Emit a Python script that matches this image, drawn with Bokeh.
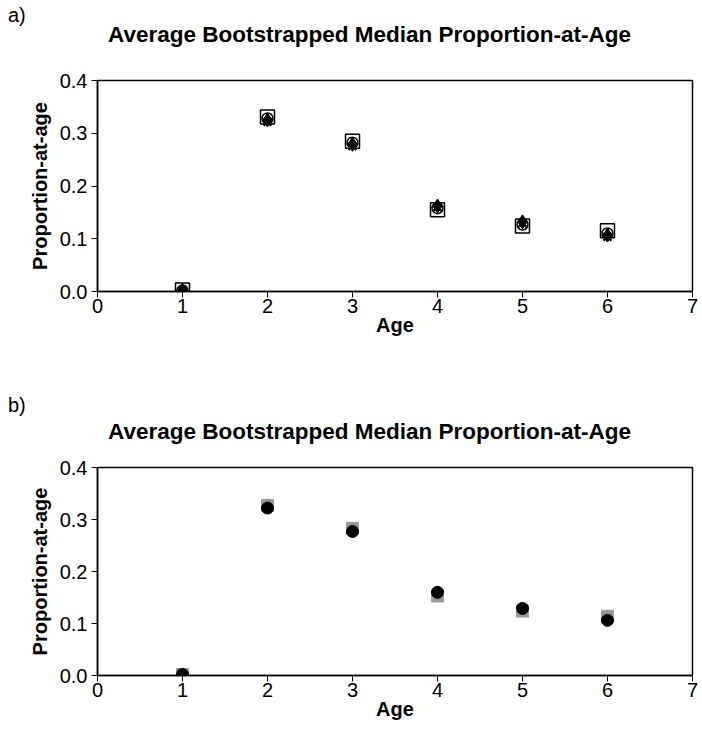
from bokeh.plotting import figure
from bokeh.models import Div, FixedTicker, NumeralTickFormatter
from bokeh.layouts import column
from bokeh.embed import file_html
from bokeh.resources import INLINE

ages = [1, 2, 3, 4, 5, 6]
x_ticks = [0, 1, 2, 3, 4, 5, 6, 7]
y_ticks = [0.0, 0.1, 0.2, 0.3, 0.4]

# Panel a series
a_square = [0.003, 0.331, 0.285, 0.155, 0.124, 0.115]
a_circle = [0.002, 0.328, 0.282, 0.158, 0.127, 0.110]
a_diamond = [0.002, 0.325, 0.279, 0.162, 0.132, 0.107]
a_cross = [0.001, 0.322, 0.276, 0.160, 0.130, 0.104]

# Panel b series
b_grey = [0.002, 0.327, 0.283, 0.153, 0.124, 0.114]
b_black = [0.002, 0.322, 0.277, 0.160, 0.129, 0.106]

FONT = "Liberation Sans"
TITLE = "Average Bootstrapped Median Proportion-at-Age"
W = 700


def make_header(label, height, label_top, title_top):
    html = (
        '<div style="position:relative;width:%dpx;height:%dpx;'
        'font-family:\'Liberation Sans\',Arial,sans-serif;color:#000;">'
        '<span style="position:absolute;left:8px;top:%dpx;font-size:20px;'
        'line-height:20px;white-space:nowrap;">%s</span>'
        '<span style="position:absolute;left:108px;top:%dpx;font-size:22.5px;'
        'line-height:24px;font-weight:bold;white-space:nowrap;">%s</span>'
        '</div>' % (W, height, label_top, label, title_top, TITLE)
    )
    return Div(text=html, width=W, height=height, margin=0)


def make_fig(height, top, bottom):
    p = figure(width=W, height=height, x_range=(0, 7), y_range=(0, 0.4),
               output_backend="svg", toolbar_location=None, title=None,
               min_border_left=97, min_border_right=8, min_border_top=top,
               min_border_bottom=bottom)
    p.xgrid.visible = False
    p.ygrid.visible = False
    p.outline_line_color = "black"
    p.outline_line_width = 1.5
    p.background_fill_color = "white"
    p.border_fill_color = "white"
    for ax in (p.xaxis[0], p.yaxis[0]):
        ax.axis_line_color = "black"
        ax.axis_line_width = 1.5
        ax.major_tick_line_color = "black"
        ax.major_tick_out = 6
        ax.major_tick_in = 0
        ax.minor_tick_line_color = None
        ax.major_label_text_font = FONT
        ax.major_label_text_font_size = "20px"
        ax.major_label_text_color = "black"
        ax.axis_label_text_font = FONT
        ax.axis_label_text_font_size = "20px"
        ax.axis_label_text_font_style = "bold"
        ax.axis_label_text_color = "black"
    p.xaxis.ticker = FixedTicker(ticks=x_ticks)
    p.yaxis.ticker = FixedTicker(ticks=y_ticks)
    p.yaxis.formatter = NumeralTickFormatter(format="0.0")
    p.xaxis.axis_label = "Age"
    p.yaxis.axis_label = "Proportion-at-age"
    p.xaxis.axis_label_standoff = -2
    p.yaxis.axis_label_standoff = 6
    p.xaxis.major_label_standoff = 1
    p.yaxis.major_label_standoff = 4
    return p


ha = make_header("a)", 60, 5, 23)
pa = make_fig(330, 20, 99)
pa.scatter(ages, a_square, marker="square", size=14, fill_color=None,
           line_color="black", line_width=1.5)
pa.scatter(ages, a_circle, marker="circle", size=11, fill_color=None,
           line_color="black", line_width=1.5)
pa.scatter(ages, a_diamond, marker="diamond", size=14, fill_color="black",
           line_color="black")
pa.scatter(ages, a_cross, marker="x", size=11, line_color="black",
           line_width=2.5)

hb = make_header("b)", 60, 5, 30)
pb = make_fig(300, 17, 75)
pb.scatter(ages, b_grey, marker="square", size=12, fill_color="#999999",
           line_color="#999999")
pb.scatter(ages, b_black, marker="circle", size=12, fill_color="black",
           line_color="black")

layout = column(ha, pa, hb, pb)
open("out.html", "w").write(file_html(layout, INLINE))
